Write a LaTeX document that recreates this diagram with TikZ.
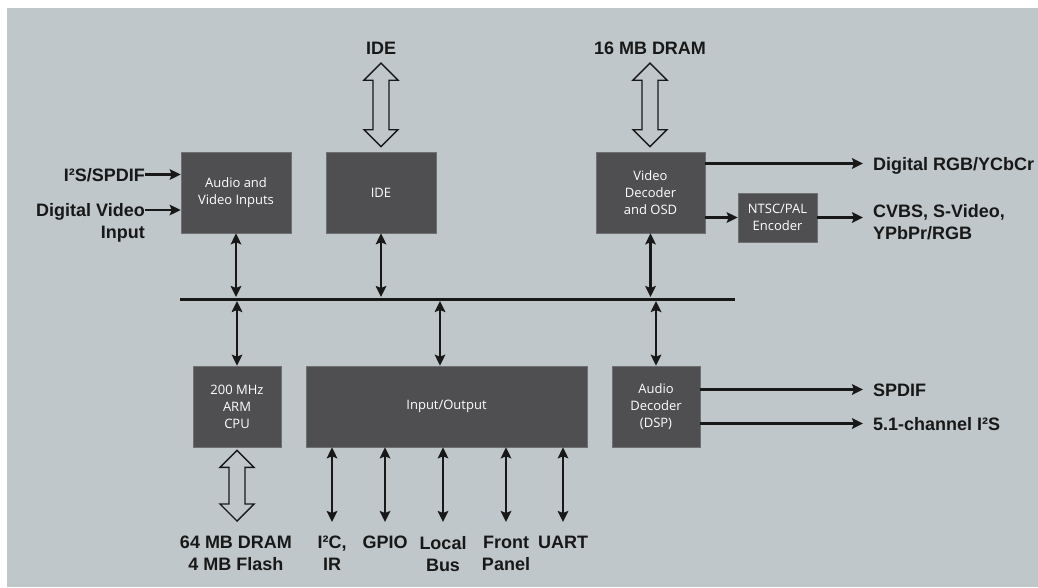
\documentclass[tikz,border=0pt]{standalone}
\usepackage{fontspec}
\setmainfont{Liberation Sans}
\newfontfamily\boxfont{Open Sans}
\usetikzlibrary{arrows.meta,calc}

\definecolor{bgcol}{RGB}{191,199,202}
\definecolor{boxcol}{RGB}{79,79,81}
\definecolor{edgecol}{RGB}{112,112,114}
\definecolor{inkcol}{RGB}{24,24,24}

% flèche creuse double entre deux points (haut, bas)
\newcommand{\fatarrow}[2]{%
  \path[draw=inkcol, line width=1.4pt, fill=bgcol, line join=miter]
    let \p1=(#1), \p2=(#2) in
    (\x1,\y1) -- (\x1+17pt,\y1-17pt) -- (\x1+8pt,\y1-17pt) -- (\x1+8pt,\y2+17pt)
    -- (\x1+17pt,\y2+17pt) -- (\x1,\y2) -- (\x1-17pt,\y2+17pt) -- (\x1-8pt,\y2+17pt)
    -- (\x1-8pt,\y1-17pt) -- (\x1-17pt,\y1-17pt) -- cycle;}

\begin{document}
\begin{tikzpicture}[x=1pt, y=-1pt, >={Stealth[length=11pt,width=10.5pt,inset=2pt]},
    blk/.style={fill=boxcol, draw=edgecol, line width=0.6pt, text=white, align=center,
      inner sep=0pt, font=\boxfont\fontsize{13}{17}\selectfont},
    lbl/.style={text=inkcol, inner sep=0pt, text height=13pt, text depth=0pt,
      font=\bfseries\fontsize{18}{22}\selectfont},
    lblm/.style={text=inkcol, inner sep=0pt, font=\bfseries\fontsize{18}{22}\selectfont},
    link/.style={draw=inkcol, line width=2.6pt}]

  % Fond
  \useasboundingbox (0,0) rectangle (1038,587);
  \fill[bgcol] (7,8) rectangle (1038,587);

  % Blocs
  \node[blk, minimum width=110pt, minimum height=81pt] (avin) at (236,192.5) {Audio and\\Video Inputs};
  \node[blk, minimum width=110pt, minimum height=81pt] (idebox) at (381,192.5) {IDE};
  \node[blk, minimum width=109pt, minimum height=81pt] (viddec) at (650.5,192.5) {Video\\Decoder\\and OSD};
  \node[blk, minimum width=79pt, minimum height=49pt] (enc) at (777.5,217.5) {NTSC/PAL\\Encoder};
  \node[blk, minimum width=88pt, minimum height=81pt] (cpu) at (237,406.5) {200 MHz\\ARM\\CPU};
  \node[blk, minimum width=281pt, minimum height=81pt] (io) at (446.5,406.5) {Input/Output};
  \node[blk, minimum width=88pt, minimum height=81pt] (auddec) at (656,406.5) {Audio\\Decoder\\(DSP)};

  % Bus
  \coordinate (bus-l) at (180,299);
  \coordinate (bus-r) at (735,299);
  \draw[inkcol, line width=3pt] (bus-l) -- (bus-r);

  % Étiquettes
  \node[lbl] (idelbl) at (381,47.5) {IDE};
  \node[lbl] (dramlbl) at (650,47.5) {16 MB DRAM};
  \node[lbl, anchor=east] (i2s) at (145,174.5) {I²S/SPDIF};
  \node[lblm, align=right, anchor=north east] (dvin) at (145,203) {Digital Video\\Input};
  \node[lbl, anchor=west] (rgb) at (873,163.5) {Digital RGB/YCbCr};
  \node[lblm, align=left, anchor=north west] (cvbs) at (873,204) {CVBS, S-Video,\\YPbPr/RGB};
  \node[lbl, anchor=west] (spdif) at (873,389.5) {SPDIF};
  \node[lbl, anchor=west] (i2sout) at (873,423.5) {5.1-channel I²S};
  \node[lblm, align=center, anchor=north] (memlbl) at (236,536) {64 MB DRAM\\4 MB Flash};

  % Flèches creuses
  \coordinate (ide-t) at ([yshift=-9pt]idelbl.south);
  \coordinate (ide-b) at ([yshift=5pt]idebox.north);
  \fatarrow{ide-t}{ide-b}
  \coordinate (dram-t) at ([yshift=-9pt]dramlbl.south);
  \coordinate (dram-b) at ([yshift=5pt]viddec.north);
  \fatarrow{dram-t}{dram-b}
  \coordinate (mem-t) at ([yshift=-3pt]cpu.south);
  \coordinate (mem-b) at ([yshift=15pt]memlbl.north);
  \fatarrow{mem-t}{mem-b}

  % Entrées
  \coordinate (dvin-e) at ([yshift=-7pt]dvin.north east);
  \draw[link, ->] (i2s.east) -- (i2s.east -| avin.west);
  \draw[link, ->] (dvin-e) -- (dvin-e -| avin.west);

  % Sorties
  \draw[link, ->] (viddec.east |- rgb.west) -- ([xshift=-10pt]rgb.west);
  \draw[link, ->] (viddec.east |- enc.west) -- (enc.west);
  \coordinate (cvbs-w) at ([xshift=-10pt]cvbs.north west);
  \draw[link, ->] (enc.east) -- (enc.east -| cvbs-w);
  \draw[link, ->] (auddec.east |- spdif.west) -- ([xshift=-10pt]spdif.west);
  \draw[link, ->] (auddec.east |- i2sout.west) -- ([xshift=-10pt]i2sout.west);

  % Liaisons au bus
  \coordinate (io-t) at ([xshift=-6.5pt]io.north);
  \draw[link, <->, shorten >=2pt] (avin.south) -- (avin.south |- bus-l);
  \draw[link, <->, shorten >=2pt] (idebox.south) -- (idebox.south |- bus-l);
  \draw[link, <->, shorten >=2pt] (viddec.south) -- (viddec.south |- bus-l);
  \draw[link, <->, shorten >=2pt] (cpu.north) -- (cpu.north |- bus-l);
  \draw[link, <->, shorten >=2pt] (io-t) -- (io-t |- bus-l);
  \draw[link, <->, shorten >=2pt] (auddec.north) -- (auddec.north |- bus-l);

  % Entrées/sorties
  \foreach \nm/\xx/\txt in {i2c/332/{I²C,\\IR}, gpio/385/GPIO, lbus/443/{Local\\Bus},
      fpan/506/{Front\\Panel}, uart/563/UART} {
    \node[lblm, align=center, anchor=north] (\nm) at (\xx,536) {\txt};
    \draw[link, <->] (\nm.north |- io.south) -- ([yshift=14pt]\nm.north);
  }

\end{tikzpicture}
\end{document}
